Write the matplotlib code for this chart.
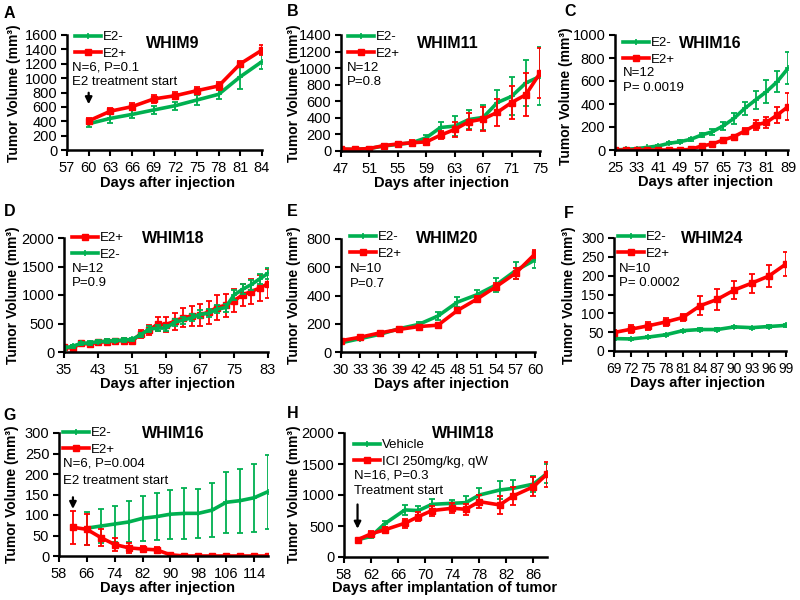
import matplotlib

matplotlib.use("Agg")

import matplotlib.pyplot as plt

plt.rcParams["font.family"] = ["Liberation Sans", "DejaVu Sans"]

GREEN = "#00B050"
RED = "#FF0000"

# -----------------------------
# Data
# -----------------------------
# A: WHIM9
A_DAYS = [60, 63, 66, 69, 72, 75, 78, 81, 84]
A_MINUS = [365, 440, 495, 557, 617, 696, 775, 1020, 1230]
A_MINUS_ERR = [40, 60, 55, 60, 55, 65, 70, 170, 100]
A_PLUS = [405, 540, 603, 710, 756, 826, 891, 1200, 1390]
A_PLUS_ERR = [40, 45, 50, 60, 50, 50, 55, 40, 70]

# B: WHIM11
B_DAYS = [47, 49, 51, 53, 55, 57, 59, 61, 63, 65, 67, 69, 71, 73, 75]
B_MINUS = [20, 20, 30, 60, 80, 100, 160, 284, 300, 380, 405, 585, 659, 821, 900]
B_MINUS_ERR = [15, 15, 15, 20, 20, 25, 30, 60, 120, 110, 150, 150, 230, 280, 350]
B_PLUS = [25, 20, 30, 65, 85, 100, 110, 191, 260, 354, 386, 467, 585, 679, 940]
B_PLUS_ERR = [15, 15, 15, 20, 25, 30, 40, 50, 90, 100, 150, 160, 200, 260, 300]

# C: WHIM16
C_DAYS = [25, 29, 33, 37, 41, 45, 49, 53, 57, 61, 65, 69, 73, 77, 81, 85, 89]
C_MINUS = [0, 6, 12, 23, 35, 58, 72, 93, 130, 159, 209, 275, 362, 435, 507, 594, 710]
C_MINUS_ERR = [2, 3, 4, 6, 8, 10, 12, 15, 20, 25, 35, 50, 55, 80, 100, 90, 140]
C_PLUS = [0, 0, 0, 0, 0, 0, 0, 5, 35, 52, 87, 116, 165, 217, 240, 304, 377]
C_PLUS_ERR = [1, 1, 1, 1, 1, 1, 1, 3, 8, 10, 12, 15, 30, 40, 50, 70, 120]

# D: WHIM18
D_DAYS = [35, 37, 39, 41, 43, 45, 47, 49, 51, 53, 55, 57, 59, 61, 63, 65, 67, 69, 71, 73, 75, 77, 79, 81, 83]
D_PLUS = [80, 70, 150, 140, 170, 180, 190, 200, 185, 320, 380, 490, 480, 540, 600, 630, 650, 700, 780, 820, 900, 1000, 1060, 1120, 1200]
D_PLUS_ERR = [40, 50, 40, 40, 30, 40, 40, 40, 40, 70, 90, 130, 130, 150, 170, 180, 200, 200, 220, 200, 200, 200, 220, 230, 250]
D_MINUS = [70, 100, 150, 160, 180, 190, 200, 210, 220, 300, 400, 420, 420, 520, 560, 600, 660, 680, 750, 780, 1000, 1100, 1180, 1280, 1380]
D_MINUS_ERR = [30, 30, 30, 30, 30, 30, 30, 30, 30, 40, 50, 50, 50, 60, 60, 60, 70, 70, 70, 70, 80, 90, 90, 90, 100]

# E: WHIM20
E_DAYS = [30, 33, 36, 39, 42, 45, 48, 51, 54, 57, 60]
E_MINUS = [65, 95, 125, 165, 195, 255, 353, 405, 475, 576, 652]
E_MINUS_ERR = [10, 10, 12, 12, 15, 30, 35, 35, 50, 60, 60]
E_PLUS = [80, 105, 135, 160, 180, 190, 294, 374, 463, 558, 694]
E_PLUS_ERR = [10, 10, 10, 10, 10, 10, 15, 20, 25, 40, 30]

# F: WHIM24
F_DAYS = [69, 72, 75, 78, 81, 84, 87, 90, 93, 96, 99]
F_MINUS = [33, 32, 37, 43, 54, 57, 57, 64, 62, 65, 68]
F_MINUS_ERR = [3, 3, 3, 3, 3, 4, 3, 3, 3, 3, 3]
F_PLUS = [49, 58, 67, 77, 89, 120, 137, 162, 180, 199, 231]
F_PLUS_ERR = [8, 10, 10, 10, 10, 25, 27, 23, 25, 30, 33]

# G: WHIM16 (E2 withdrawal)
G_MINUS_DAYS = [66, 70, 74, 78, 82, 86, 90, 94, 98, 102, 106, 110, 114, 118]
G_MINUS = [68, 73, 78, 83, 92, 96, 102, 104, 104, 112, 131, 135, 142, 157]
G_MINUS_ERR = [40, 42, 45, 50, 55, 57, 60, 62, 60, 65, 75, 78, 83, 90]
G_PLUS_DAYS = [62, 66, 70, 74, 78, 82, 86, 90, 94, 98, 102, 106, 110, 114, 118]
G_PLUS = [70, 65, 45, 28, 20, 17, 15, 3, 0, 0, 0, 0, 0, 0, 0]
G_PLUS_ERR = [40, 38, 20, 15, 12, 8, 8, 2, 0, 0, 0, 0, 0, 0, 0]

# H: WHIM18 (ICI)
H_DAYS = [60, 62, 64, 67, 69, 71, 74, 76, 78, 81, 83, 86, 88]
H_VEHICLE = [278, 332, 535, 759, 749, 850, 866, 877, 1000, 1080, 1107, 1176, 1348]
H_VEHICLE_ERR = [20, 30, 50, 80, 70, 80, 60, 100, 120, 150, 130, 130, 150]
H_ICI = [278, 374, 438, 545, 652, 749, 786, 770, 893, 840, 984, 1134, 1337]
H_ICI_ERR = [20, 40, 50, 70, 70, 80, 80, 90, 100, 150, 150, 150, 200]


# -----------------------------
# Helpers (pixel coordinates of an 800x600 canvas)
# -----------------------------
W, H = 800, 600


def fx(x):
    return x / W


def fy(y):
    return 1 - y / H


fig = plt.figure(figsize=(8, 6), dpi=100)
fig.patch.set_facecolor("white")


def make_axes(box, xlim, xticks, ylim, yticks, tsize=10.5):
    l, t, r, b = box
    ax = fig.add_axes([fx(l), fy(b), (r - l) / W, (b - t) / H])
    ax.set_xlim(*xlim)
    ax.set_ylim(*ylim)
    ax.set_xticks(xticks)
    ax.set_yticks(yticks)
    for s in ("top", "right"):
        ax.spines[s].set_visible(False)
    for s in ("left", "bottom"):
        ax.spines[s].set_linewidth(1.8)
    ax.tick_params(direction="out", length=4, width=1.5, labelsize=tsize, pad=3)
    ax.tick_params(axis="x", pad=4)
    ax.patch.set_alpha(0)
    return ax


def series(ax, x, y, err, color, marker, label):
    ax.errorbar(x, y, yerr=err, fmt="none", ecolor=color, elinewidth=1.3, capsize=2.5, capthick=1.3)
    if marker == "s":
        ln, = ax.plot(x, y, color=color, lw=2.6, marker="s", ms=4.5, label=label)
    else:
        ln, = ax.plot(x, y, color=color, lw=2.6, marker="+", ms=4, mew=1.2, label=label)
    return ln


def legend(ax, handles, x, y):
    ax.legend(handles=handles, loc="upper left", bbox_to_anchor=(fx(x), fy(y)),
              bbox_transform=fig.transFigure, frameon=False, fontsize=9.5,
              handlelength=2.0, handletextpad=0.1, borderpad=0, borderaxespad=0,
              labelspacing=0.35)


def labels(letter, lpos, title, tpos, xlabel, xpos, ypos):
    fig.text(fx(lpos[0]), fy(lpos[1]), letter, fontsize=11.5, fontweight="bold", ha="left", va="center")
    fig.text(fx(tpos[0]), fy(tpos[1]), title, fontsize=11.5, fontweight="bold", ha="center", va="center")
    fig.text(fx(xpos[0]), fy(xpos[1]), xlabel, fontsize=10.5, fontweight="bold", ha="center", va="center")
    fig.text(fx(ypos[0]), fy(ypos[1]), "Tumor Volume (mm³)", fontsize=10, fontweight="bold",
             ha="center", va="center", rotation=90)


def note(x, y, s):
    fig.text(fx(x), fy(y), s, fontsize=9.5, ha="left", va="center")


def arrow(ax, x, y0, y1):
    ax.annotate("", xy=(x, y1), xytext=(x, y0),
                arrowprops=dict(arrowstyle="-|>", color="black", lw=1.6, mutation_scale=10))


# A
ax = make_axes((67, 35, 262, 150), (57, 84), range(57, 85, 3), (0, 1600), range(0, 1601, 200))
g = series(ax, A_DAYS, A_MINUS, A_MINUS_ERR, GREEN, "+", "E2-")
r = series(ax, A_DAYS, A_PLUS, A_PLUS_ERR, RED, "s", "E2+")
legend(ax, [g, r], 75, 31)
labels("A", (4, 13), "WHIM9", (173, 43), "Days after injection", (167, 183), (14, 93))
note(72, 68, "N=6, P=0.1")
note(72, 82, "E2 treatment start")
arrow(ax, 60, 835, 598)

# B
ax = make_axes((341, 35, 540, 151), (47, 75), range(47, 76, 4), (0, 1400), range(0, 1401, 200))
g = series(ax, B_DAYS, B_MINUS, B_MINUS_ERR, GREEN, "+", "E2-")
r = series(ax, B_DAYS, B_PLUS, B_PLUS_ERR, RED, "s", "E2+")
legend(ax, [g, r], 348, 31)
labels("B", (287, 12), "WHIM11", (448, 43), "Days after injection", (442, 183), (294, 93))
note(347, 68, "N=12")
note(347, 82, "P=0.8")

# C
ax = make_axes((615, 35, 788, 150), (25, 89), range(25, 90, 8), (0, 1000), range(0, 1001, 200))
g = series(ax, C_DAYS, C_MINUS, C_MINUS_ERR, GREEN, "+", "E2-")
r = series(ax, C_DAYS, C_PLUS, C_PLUS_ERR, RED, "s", "E2+")
legend(ax, [g, r], 623, 37)
labels("C", (564, 12), "WHIM16", (710, 43), "Days after injection", (705, 182), (566, 96))
note(623, 73, "N=12")
note(623, 88, "P= 0.0019")

# D
ax = make_axes((64, 238, 268, 352), (35, 83), range(35, 84, 8), (0, 2000), range(0, 2001, 500))
r = series(ax, D_DAYS, D_PLUS, D_PLUS_ERR, RED, "s", "E2+")
g = series(ax, D_DAYS, D_MINUS, D_MINUS_ERR, GREEN, "+", "E2-")
legend(ax, [r, g], 72, 232)
labels("D", (4, 212), "WHIM18", (173, 238), "Days after injection", (167, 384), (13, 295))
note(72, 269, "N=12")
note(72, 283, "P=0.9")

# E
ax = make_axes((341, 239, 535, 352), (30, 60), range(30, 61, 3), (0, 800), range(0, 801, 200))
g = series(ax, E_DAYS, E_MINUS, E_MINUS_ERR, GREEN, "+", "E2-")
r = series(ax, E_DAYS, E_PLUS, E_PLUS_ERR, RED, "s", "E2+")
legend(ax, [g, r], 350, 231)
labels("E", (287, 212), "WHIM20", (447, 238), "Days after injection", (442, 384), (294, 295))
note(350, 269, "N=10")
note(350, 284, "P=0.7")

# F
ax = make_axes((614, 238, 786, 351), (69, 99), range(69, 100, 3), (0, 300), range(0, 301, 50), tsize=10)
g = series(ax, F_DAYS, F_MINUS, F_MINUS_ERR, GREEN, "+", "E2-")
r = series(ax, F_DAYS, F_PLUS, F_PLUS_ERR, RED, "s", "E2+")
legend(ax, [g, r], 618, 231)
labels("F", (564, 213), "WHIM24", (712, 238), "Days after injection", (697, 383), (569, 295))
note(619, 269, "N=10")
note(619, 283, "P= 0.0002")

# G
ax = make_axes((59, 433, 268, 556), (58, 118), range(58, 115, 8), (0, 300), range(0, 301, 50))
g = series(ax, G_MINUS_DAYS, G_MINUS, G_MINUS_ERR, GREEN, "+", "E2-")
r = series(ax, G_PLUS_DAYS, G_PLUS, G_PLUS_ERR, RED, "s", "E2+")
legend(ax, [g, r], 63, 427)
labels("G", (3, 415), "WHIM16", (173, 433), "Days after injection", (167, 588), (12, 494))
note(63, 464, "N=6, P=0.004")
note(63, 481, "E2 treatment start")
arrow(ax, 62, 150, 108)

# H
ax = make_axes((344, 433, 547, 557), (58, 88), range(58, 87, 4), (0, 2000), range(0, 2001, 500))
g = series(ax, H_DAYS, H_VEHICLE, H_VEHICLE_ERR, GREEN, "+", "Vehicle")
r = series(ax, H_DAYS, H_ICI, H_ICI_ERR, RED, "s", "ICI 250mg/kg, qW")
legend(ax, [g, r], 354, 439)
labels("H", (287, 413), "WHIM18", (463, 433), "Days after implantation of tumor", (445, 588), (294, 494))
note(354, 475, "N=16, P=0.3")
note(354, 491, "Treatment start")
arrow(ax, 60, 892, 411)

plt.savefig("out.png", dpi=100)
